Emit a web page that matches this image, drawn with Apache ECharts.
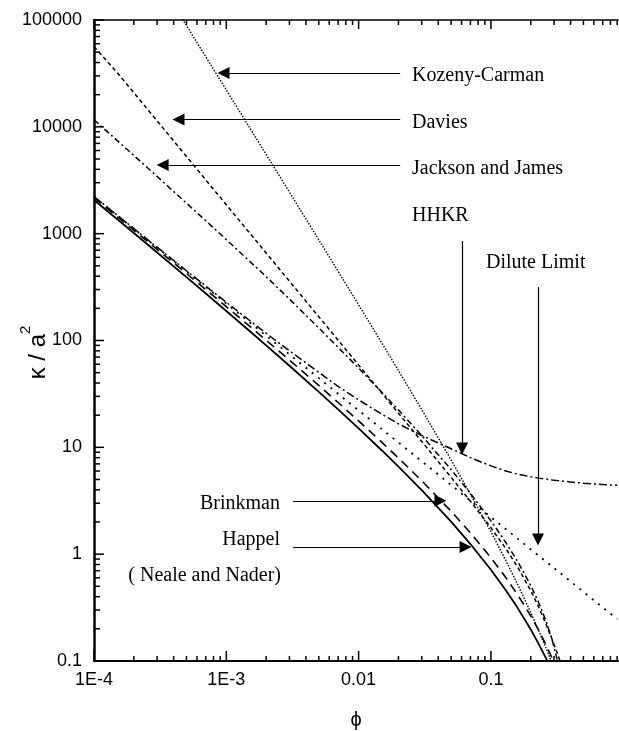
<!DOCTYPE html>
<html><head><meta charset="utf-8">
<script src="https://cdn.jsdelivr.net/npm/echarts@6/dist/echarts.min.js"></script>
<style>html,body{margin:0;padding:0;background:#fff}#c{width:619px;height:731px}</style>
</head><body><div id="c"></div>
<script>
// solid volume fraction (x)
const phi = [1e-4, 1.5e-4, 2e-4, 3e-4, 5e-4, 7e-4, 1e-3, 1.5e-3, 2e-3, 3e-3, 5e-3, 7e-3, 0.01, 0.015, 0.02, 0.03, 0.05, 0.07, 0.1, 0.13, 0.16, 0.2, 0.23, 0.26, 0.29, 0.32, 0.35, 0.4, 0.5, 0.6, 0.7, 0.8, 0.9];
// permeability kappa / a^2
const happel = [2067, 1363, 1014, 666.6, 391.5, 275.2, 188.9, 122.7, 90.1, 58.06, 33.05, 22.64, 15.05, 9.345, 6.60, 3.973, 2.014, 1.244, 0.714, 0.457, 0.311, 0.197, 0.144, 0.107, 0.080, null, null, null, null, null, null, null, null];
const brinkman = [2175, 1443, 1078, 713.7, 423.5, 299.8, 207.5, 136.1, 100.7, 65.6, 37.95, 26.29, 17.68, 11.14, 7.957, 4.868, 2.523, 1.583, 0.926, 0.601, 0.413, 0.264, 0.193, 0.143, 0.1066, 0.0794, null, null, null, null, null, null, null];
const dilute = [2222, 1481, 1111, 741, 444, 317, 222, 148, 111, 74.1, 44.4, 31.7, 22.2, 14.8, 11.1, 7.41, 4.44, 3.17, 2.22, 1.71, 1.39, 1.11, 0.966, 0.855, 0.766, 0.694, 0.635, 0.556, 0.444, 0.370, 0.317, 0.278, 0.247];
const hhkr = [2228, 1487, 1117, 747, 450, 323, 228, 154, 117, 80, 50.4, 37.2, 27.8, 20.4, 16.6, 12.9, 9.7, 8.0, 6.7, 6.0, 5.6, 5.3, 5.15, 5.05, 4.95, 4.88, 4.82, 4.74, 4.62, 4.54, 4.49, 4.45, 4.42];
const kozenyCarman = [2222000, 987000, 555400, 246700, 88760, 45256, 22155, 9832, 5522, 2447, 875.6, 444.1, 215.6, 94.39, 52.29, 22.53, 7.621, 3.648, 1.620, 0.866, 0.5145, 0.2844, 0.1918, 0.1332, 0.0946, 0.0682, null, null, null, null, null, null, null];
const davies = [56500, 32120, 20860, 11355, 5277, 3186, 1866, 1016, 659.7, 359.1, 166.9, 100.7, 59.0, 32.11, 20.85, 11.34, 5.240, 3.126, 1.767, 1.121, 0.750, 0.456, 0.318, 0.224, 0.160, 0.115, 0.0838, null, null, null, null, null, null];
const jacksonJames = [11650, 7430, 5400, 3430, 1930, 1320, 880, 552, 396.3, 243.9, 131.0, 86.37, 55.11, 32.69, 22.36, 12.88, 6.194, 3.704, 2.057, 1.280, 0.845, 0.509, 0.351, 0.240, 0.159, 0.0977, 0.0509, null, null, null, null, null, null];

// axis ticks / labels
const xDecades = [-4, -3, -2, -1];
const xTickLabels = ['1E-4', '1E-3', '0.01', '0.1'];
const yDecades = [-1, 0, 1, 2, 3, 4, 5];
const yTickLabels = ['0.1', '1', '10', '100', '1000', '10000', '100000'];
const xMin = 1e-4, xMax = 0.913, yMin = 0.1, yMax = 1e5;

// annotation arrows [from, to] in data coordinates
const arrowKC = [[0.0206, 31900], [9.52e-4, 31900]];
const arrowDavies = [[0.0206, 11700], [4.35e-4, 11700]];
const arrowJJ = [[0.0206, 4390], [3.30e-4, 4390]];
const arrowHHKR = [[0.0605, 853], [0.0605, 9.73]];
const arrowDilute = [[0.227, 316], [0.227, 1.37]];
const arrowBrinkman = [[3.19e-3, 3.16], [0.0416, 3.16]];
const arrowHappel = [[3.19e-3, 1.17], [0.0643, 1.17]];

const SANS = '"Liberation Sans", Arial, "DejaVu Sans", sans-serif';
const SERIF = '"Liberation Serif", "Times New Roman", serif';

function pairs(ys) { return phi.map((x, i) => [x, ys[i]]); }

// tick marks
const tickData = [];
xDecades.forEach(d => {
  const base = Math.pow(10, d);
  tickData.push([base, yMin, 0, 10]); tickData.push([base, yMax, 1, 9]);
  for (let m = 2; m <= 9; m++) {
    const v = m * base;
    if (v <= xMax) { tickData.push([v, yMin, 0, 5]); tickData.push([v, yMax, 1, 5]); }
  }
});
yDecades.forEach(d => {
  const base = Math.pow(10, d);
  tickData.push([xMin, base, 2, 10]);
  if (d < 5) for (let m = 2; m <= 9; m++) tickData.push([xMin, m * base, 2, 6]);
});

function lineSeries(name, ys, dash, width) {
  return {
    name, type: 'line', data: pairs(ys), showSymbol: false, symbol: 'none',
    lineStyle: { color: '#000', width: width, type: dash }, clip: true, z: 3
  };
}
function arrow(a) { return [{ coord: a[0] }, { coord: a[1] }]; }

const chart = echarts.init(document.getElementById('c'), null, { renderer: 'canvas' });
chart.setOption({
  animation: false,
  backgroundColor: '#fff',
  textStyle: { fontFamily: SANS },
  grid: { left: 94, right: 1, top: 20, bottom: 70, containLabel: false, outerBoundsMode: 'none' },
  xAxis: [{
    type: 'log', logBase: 10, min: xMin, max: xMax, position: 'bottom',
    name: '\u03D5', nameLocation: 'middle', nameGap: 49, nameMoveOverlap: false,
    nameTextStyle: { fontFamily: SANS, fontSize: 20, color: '#000' },
    axisLine: { show: true, lineStyle: { color: '#000', width: 2 } },
    axisTick: { show: false }, splitLine: { show: false }, minorTick: { show: false },
    axisLabel: {
      color: '#000', fontSize: 18, fontFamily: SANS, margin: 10,
      formatter: v => {
        const l = Math.log10(v), r = Math.round(l);
        if (Math.abs(l - r) > 1e-6) return '';
        const i = xDecades.indexOf(r); return i < 0 ? '' : xTickLabels[i];
      }
    }
  }, {
    type: 'log', logBase: 10, min: xMin, max: xMax, position: 'top',
    axisLine: { show: true, lineStyle: { color: '#000', width: 1.6 } },
    axisTick: { show: false }, axisLabel: { show: false }, splitLine: { show: false }
  }],
  yAxis: {
    type: 'log', logBase: 10, min: yMin, max: yMax,
    name: '{b|\u03BA / a}{sup|2}', nameLocation: 'middle', nameGap: 44, nameRotate: 90, nameMoveOverlap: false,
    nameTextStyle: {
      color: '#000', fontFamily: SANS,
      rich: {
        b: { fontSize: 24, fontFamily: SANS, color: '#000', lineHeight: 32, verticalAlign: 'bottom' },
        sup: { fontSize: 15, fontFamily: SANS, color: '#000', lineHeight: 32, verticalAlign: 'top', padding: [0, 24, 0, 0] }
      }
    },
    axisLine: { show: true, lineStyle: { color: '#000', width: 2.5 } },
    axisTick: { show: false }, splitLine: { show: false },
    axisLabel: {
      color: '#000', fontSize: 18, fontFamily: SANS, margin: 12,
      formatter: v => {
        const l = Math.log10(v), r = Math.round(l);
        if (Math.abs(l - r) > 1e-6) return '';
        const i = yDecades.indexOf(r); return i < 0 ? '' : yTickLabels[i];
      }
    }
  },
  series: [
    lineSeries('Happel', happel, 'solid', 1.8),
    lineSeries('Brinkman', brinkman, [9, 6], 1.6),
    lineSeries('Dilute Limit', dilute, [2, 6], 1.8),
    lineSeries('HHKR', hhkr, [8, 3, 2, 3], 1.5),
    lineSeries('Kozeny-Carman', kozenyCarman, [1.5, 1.5], 1.4),
    lineSeries('Davies', davies, [4, 3], 1.5),
    lineSeries('Jackson and James', jacksonJames, [6, 3, 2, 3], 1.5),
    {
      type: 'custom', name: 'ticks', data: tickData, encode: { x: 0, y: 1 }, silent: true, clip: false, z: 5,
      renderItem: (params, api) => {
        const p = api.coord([api.value(0), api.value(1)]);
        const side = api.value(2), len = api.value(3);
        let x2 = p[0], y2 = p[1];
        if (side === 0) y2 -= len; else if (side === 1) y2 += len; else x2 += len;
        return { type: 'line', shape: { x1: p[0], y1: p[1], x2: x2, y2: y2 }, style: { stroke: '#000', lineWidth: 1.5 } };
      }
    },
    {
      type: 'line', name: 'arrows', data: [], silent: true,
      markLine: {
        silent: true, animation: false, symbol: ['none', 'triangle'], symbolSize: 12,
        label: { show: false }, itemStyle: { color: '#000' },
        lineStyle: { color: '#000', width: 1.2, type: 'solid' },
        emphasis: { disabled: true },
        data: [arrowKC, arrowDavies, arrowJJ, arrowHHKR, arrowDilute, arrowBrinkman, arrowHappel].map(arrow)
      }
    }
  ],
  graphic: [
    { type: 'text', x: 412, y: 76, style: { text: 'Kozeny-Carman', font: '20px ' + SERIF, fill: '#000', align: 'left', verticalAlign: 'middle' } },
    { type: 'text', x: 412, y: 123, style: { text: 'Davies', font: '20px ' + SERIF, fill: '#000', align: 'left', verticalAlign: 'middle' } },
    { type: 'text', x: 412, y: 169, style: { text: 'Jackson and James', font: '20px ' + SERIF, fill: '#000', align: 'left', verticalAlign: 'middle' } },
    { type: 'text', x: 412, y: 216, style: { text: 'HHKR', font: '20px ' + SERIF, fill: '#000', align: 'left', verticalAlign: 'middle' } },
    { type: 'text', x: 486, y: 263, style: { text: 'Dilute Limit', font: '20px ' + SERIF, fill: '#000', align: 'left', verticalAlign: 'middle' } },
    { type: 'text', x: 280, y: 504, style: { text: 'Brinkman', font: '20px ' + SERIF, fill: '#000', align: 'right', verticalAlign: 'middle' } },
    { type: 'text', x: 280, y: 540, style: { text: 'Happel', font: '20px ' + SERIF, fill: '#000', align: 'right', verticalAlign: 'middle' } },
    { type: 'text', x: 281, y: 576, style: { text: '( Neale and Nader)', font: '20px ' + SERIF, fill: '#000', align: 'right', verticalAlign: 'middle' } }
  ]
});
</script>
</body></html>
